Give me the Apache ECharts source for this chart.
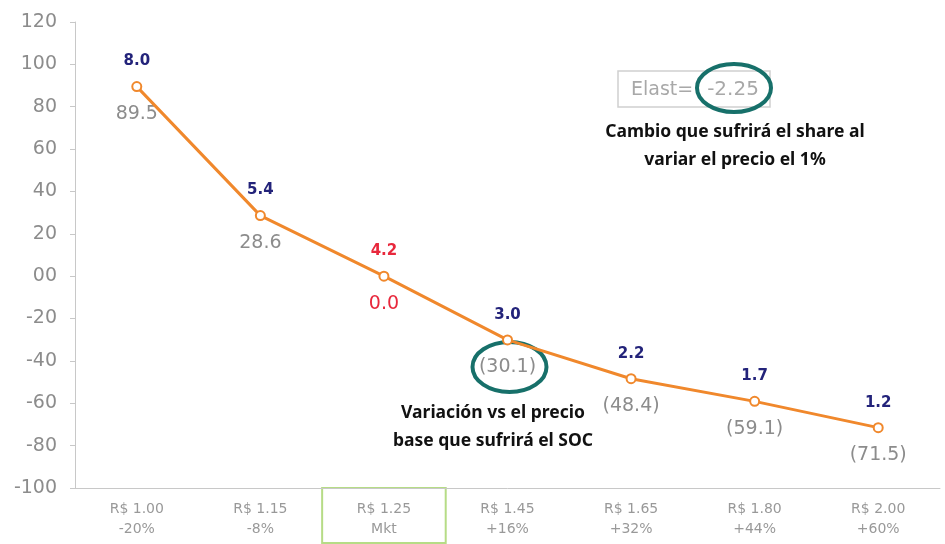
<!DOCTYPE html>
<html>
<head>
<meta charset="utf-8">
<script src="https://cdn.jsdelivr.net/npm/echarts@6/dist/echarts.min.js"></script>
<style>
  html, body { margin: 0; padding: 0; background: #fff; }
  #chart { width: 945px; height: 544px; }
</style>
</head>
<body>
<div id="chart"></div>
<script>
// precios y variacion vs precio base
var precios = ["R$ 1.00", "R$ 1.15", "R$ 1.25", "R$ 1.45", "R$ 1.65", "R$ 1.80", "R$ 2.00"];
var variacionPrecio = ["-20%", "-8%", "Mkt", "+16%", "+32%", "+44%", "+60%"];
// share (valor sobre el punto) y variacion del SOC (valor bajo el punto)
var share = [8.0, 5.4, 4.2, 3.0, 2.2, 1.7, 1.2];
var variacionSOC = [89.5, 28.6, 0.0, -30.1, -48.4, -59.1, -71.5];
var mktIndex = 2;
var elast = -2.25;

var categorias = precios.map(function (p, i) { return p + "\n" + variacionPrecio[i]; });

var chart = echarts.init(document.getElementById("chart"));
var gris = "#8c8c8c";
var naranja = "#f0882c";
var azul = "#23237a";
var rojo = "#e8283c";
var verdeAzul = "#17706a";

var option = {
  animation: false,
  textStyle: { fontFamily: "DejaVu Sans" },
  grid: { left: 75, right: 5, top: 22, bottom: 56 },
  xAxis: {
    type: "category",
    data: categorias,
    axisLine: { onZero: false, lineStyle: { color: "#c8c8c8" } },
    axisTick: { inside: true, length: 6, lineStyle: { color: "#c8c8c8" } },
    axisLabel: { color: "#999", fontSize: 14, lineHeight: 20, margin: 11 }
  },
  yAxis: {
    type: "value",
    min: -100,
    max: 120,
    interval: 20,
    splitLine: { show: false },
    axisLine: { show: true, lineStyle: { color: "#c8c8c8" } },
    axisTick: { show: true, length: 5, lineStyle: { color: "#c8c8c8" } },
    axisLabel: {
      color: gris, fontSize: 19, margin: 18,
      formatter: function (v) { return v === 0 ? "00" : String(v); }
    }
  },
  series: [
    {
      type: "line",
      data: variacionSOC,
      symbol: "circle",
      symbolSize: 9,
      lineStyle: { color: naranja, width: 3 },
      itemStyle: { color: "#fff", borderColor: naranja, borderWidth: 2 },
      label: {
        show: true,
        position: "top",
        distance: 12,
        formatter: function (p) {
          var t = share[p.dataIndex].toFixed(1);
          return p.dataIndex === mktIndex ? "{r|" + t + "}" : "{a|" + t + "}";
        },
        rich: {
          a: { color: azul, fontWeight: "bold", fontSize: 15 },
          r: { color: rojo, fontWeight: "bold", fontSize: 15 }
        }
      },
      z: 3
    },
    {
      type: "line",
      data: variacionSOC,
      symbol: "circle",
      symbolSize: 2,
      itemStyle: { color: "rgba(0,0,0,0)", borderWidth: 0 },
      lineStyle: { width: 0, color: "rgba(0,0,0,0)" },
      label: {
        show: true,
        position: "bottom",
        distance: 17,
        formatter: function (p) {
          var v = variacionSOC[p.dataIndex];
          var t = v < 0 ? "(" + Math.abs(v).toFixed(1) + ")" : v.toFixed(1);
          return p.dataIndex === mktIndex ? "{r|" + t + "}" : "{g|" + t + "}";
        },
        rich: {
          g: { color: gris, fontSize: 19 },
          r: { color: rojo, fontSize: 19 }
        }
      },
      z: 2
    }
  ]
};
chart.setOption(option);

// marcos y anotaciones
var x0 = chart.convertToPixel({ xAxisIndex: 0 }, mktIndex);
var anchoBanda = (945 - 75 - 5) / precios.length;
var yEje = chart.convertToPixel({ yAxisIndex: 0 }, -100);
var pSoc = chart.convertToPixel({ xAxisIndex: 0, yAxisIndex: 0 }, [3, variacionSOC[3]]);

chart.setOption({
  graphic: [
    {
      type: "rect",
      shape: { x: x0 - anchoBanda / 2, y: yEje, width: anchoBanda, height: 544 - yEje - 1 },
      style: { fill: "none", stroke: "#b6dc86", lineWidth: 2 }
    },
    {
      type: "rect",
      shape: { x: 618, y: 71, width: 152, height: 36 },
      style: { fill: "#fff", stroke: "#d0d0d0", lineWidth: 1.5 }
    },
    {
      type: "text",
      x: 631, y: 90,
      style: { text: "Elast=", fill: "#a8a8a8", font: "19px DejaVu Sans", verticalAlign: "middle" }
    },
    {
      type: "text",
      x: 733, y: 90,
      style: { text: elast.toFixed(2), fill: "#a8a8a8", font: "20px DejaVu Sans", align: "center", verticalAlign: "middle" }
    },
    {
      type: "ellipse",
      shape: { cx: 734, cy: 88, rx: 37, ry: 24 },
      style: { fill: "none", stroke: verdeAzul, lineWidth: 4 }
    },
    {
      type: "ellipse",
      shape: { cx: pSoc[0] + 2, cy: pSoc[1] + 27, rx: 37, ry: 25 },
      style: { fill: "none", stroke: verdeAzul, lineWidth: 4 }
    },
    {
      type: "text",
      x: 735, y: 146,
      style: {
        text: "Cambio que sufrirá el share al\nvariar el precio el 1%",
        fill: "#111", font: "bold 17.5px Noto Sans", align: "center", verticalAlign: "middle", lineHeight: 28
      }
    },
    {
      type: "text",
      x: 493, y: 427,
      style: {
        text: "Variación vs el precio\nbase que sufrirá el SOC",
        fill: "#111", font: "bold 17.5px Noto Sans", align: "center", verticalAlign: "middle", lineHeight: 28
      }
    }
  ]
});

window.onresize = function () { chart.resize(); };
</script>
</body>
</html>
